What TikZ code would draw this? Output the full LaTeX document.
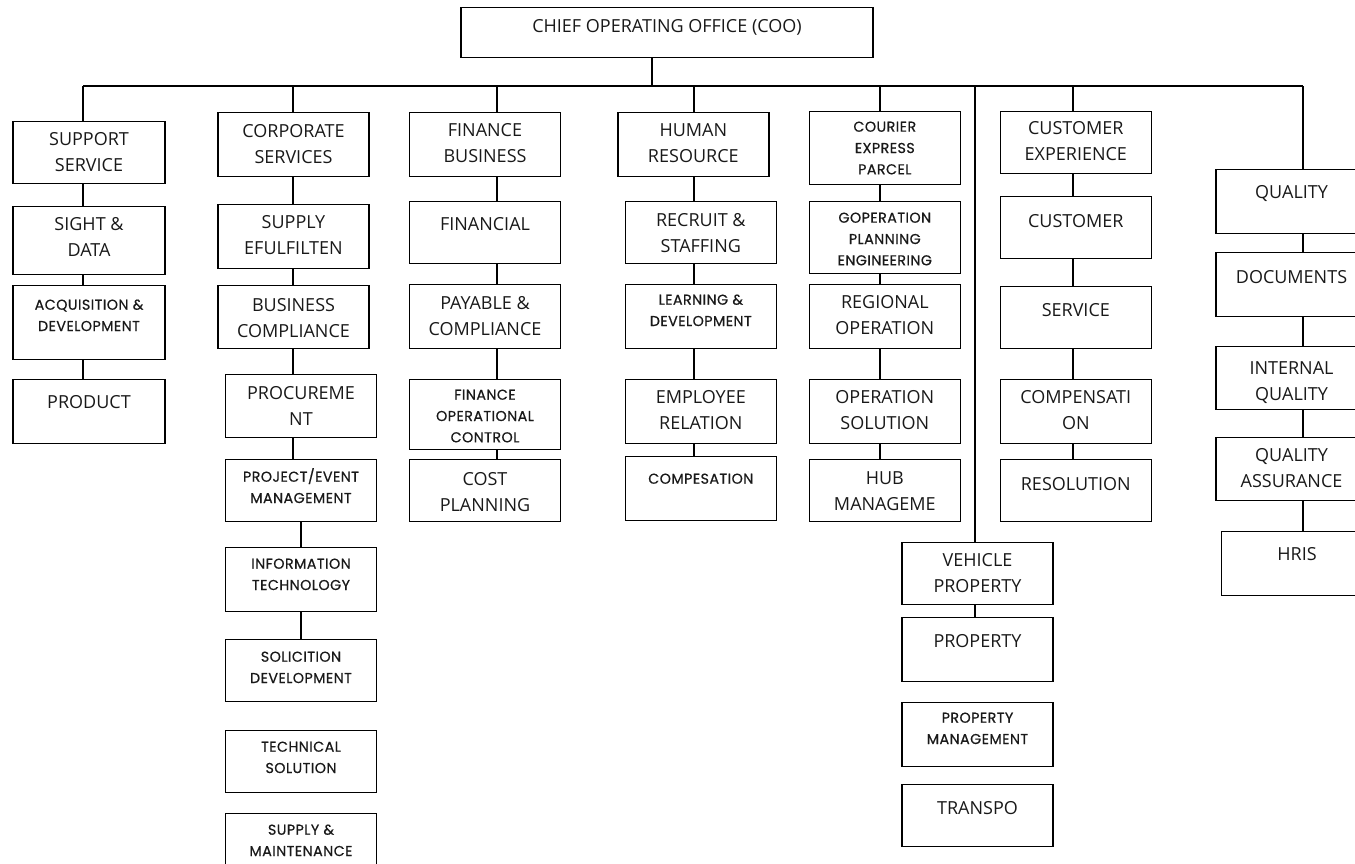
\documentclass[tikz,border=0pt]{standalone}
\usepackage{fontspec}
\setmainfont{Open Sans}
\newfontfamily\smallfam{Poppins}[LetterSpace=3,FakeBold=0.6]
\usetikzlibrary{positioning}

% box text: [width]{height}{first baseline}{lines}
\newcommand{\unittext}[4][151]{\parbox[t][#2pt][t]{#1pt}{\centering\rule{0pt}{#3pt}#4}}

\begin{document}
\begin{tikzpicture}[x=1pt, y=-1pt, line width=1.4pt,
                unit/.style={draw, anchor=north, inner sep=0pt, text=black!90},
                bigtext/.style={font=\fontsize{18}{26}\selectfont},
                smalltext/.style={font=\smallfam\fontsize{14.3}{21.3}\selectfont}]

      \useasboundingbox (0,0) rectangle (1355,863);

      % bus
      \coordinate (top) at (652,86);
      \coordinate (c1) at (83,86);
      \coordinate (c2) at (293,86);
      \coordinate (c3) at (497,86);
      \coordinate (c4) at (694,86);
      \coordinate (c5) at (880,86);
      \coordinate (c5b) at (975,86);
      \coordinate (c6) at (1073,86);
      \coordinate (c7) at (1303,86);

      \node[unit, bigtext] (coo) at (667,7) {\unittext[412]{50}{25}{CHIEF OPERATING OFFICE (COO)}};

      % support
      \node[unit, bigtext] (ss) at (89,121) {\unittext[152]{62}{24}{SUPPORT\\SERVICE}};
      \node[unit, bigtext] (sd) at (89,206) {\unittext[152]{68}{24}{SIGHT \&\\DATA}};
      \node[unit, smalltext] (ad) at (89,285) {\unittext[152]{74}{24}{ACQUISITION \&\\DEVELOPMENT}};
      \node[unit, bigtext] (pr) at (89,379) {\unittext[152]{64}{29}{PRODUCT}};

      % corporate
      \node[unit, bigtext] (cs) at (293.5,112) {\unittext{64}{24.5}{CORPORATE\\SERVICES}};
      \node[unit, bigtext] (se) at (293.5,204) {\unittext{64}{24}{SUPPLY\\EFULFILTEN}};
      \node[unit, bigtext] (bc) at (293.5,285) {\unittext{63}{26}{BUSINESS\\COMPLIANCE}};
      \node[unit, bigtext] (pn) at (301,374) {\unittext{63}{25}{PROCUREME\\NT}};
      \node[unit, smalltext] (pe) at (301,459) {\unittext{62}{22}{PROJECT/EVENT\\MANAGEMENT}};
      \node[unit, smalltext] (it) at (301,547) {\unittext{64}{21}{INFORMATION\\TECHNOLOGY}};
      \node[unit, smalltext] (sdv) at (301,639) {\unittext{62}{22}{SOLICITION\\DEVELOPMENT}};
      \node[unit, smalltext] (ts) at (301,730) {\unittext{62}{21}{TECHNICAL\\SOLUTION}};
      \node[unit, smalltext] (sm) at (301,813) {\unittext{62}{21}{SUPPLY \&\\MAINTENANCE}};

      % finance
      \node[unit, bigtext] (fb) at (485,112) {\unittext{64}{24}{FINANCE\\BUSINESS}};
      \node[unit, bigtext] (fi) at (485,201) {\unittext{62}{28.5}{FINANCIAL}};
      \node[unit, bigtext] (pc) at (485,284) {\unittext{64}{24.5}{PAYABLE \&\\COMPLIANCE}};
      \node[unit, smalltext] (foc) at (485,379) {\unittext{70}{20}{FINANCE\\OPERATIONAL\\CONTROL}};
      \node[unit, bigtext] (cp) at (485,459) {\unittext{62}{26}{COST\\PLANNING}};

      % human resource
      \node[unit, bigtext] (hr) at (693.3,112) {\unittext{64}{24}{HUMAN\\RESOURCE}};
      \node[unit, bigtext] (rs) at (700.8,201) {\unittext{62}{25}{RECRUIT \&\\STAFFING}};
      \node[unit, smalltext] (ld) at (700.8,284) {\unittext{64}{20}{LEARNING \&\\DEVELOPMENT}};
      \node[unit, bigtext] (er) at (700.8,379) {\unittext{63.5}{24}{EMPLOYEE\\RELATION}};
      \node[unit, smalltext] (cm) at (700.8,456) {\unittext{64}{27}{COMPESATION}};

      % courier
      \node[unit, smalltext] (cep) at (884.8,111) {\unittext{73}{20}{COURIER\\EXPRESS\\PARCEL}};
      \node[unit, smalltext] (gpe) at (884.8,201) {\unittext{72}{21}{GOPERATION\\PLANNING\\ENGINEERING}};
      \node[unit, bigtext] (ro) at (884.8,284) {\unittext{64}{24}{REGIONAL\\OPERATION}};
      \node[unit, bigtext] (os) at (884.8,379) {\unittext{63.5}{24}{OPERATION\\SOLUTION}};
      \node[unit, bigtext] (hm) at (884.8,459) {\unittext{62}{24.5}{HUB\\MANAGEME}};

      % vehicle
      \node[unit, bigtext] (vp) at (977.5,542) {\unittext{62}{24}{VEHICLE\\PROPERTY}};
      \node[unit, bigtext] (pp) at (977.5,617) {\unittext{64}{29.5}{PROPERTY}};
      \node[unit, smalltext] (pm) at (977.5,702) {\unittext{64}{20}{PROPERTY\\MANAGEMENT}};
      \node[unit, bigtext] (tr) at (977.5,784) {\unittext{62}{30}{TRANSPO}};

      % customer
      \node[unit, bigtext] (cx) at (1075.8,111) {\unittext{62}{23}{CUSTOMER\\EXPERIENCE}};
      \node[unit, bigtext] (cu) at (1075.8,196) {\unittext{62}{30.5}{CUSTOMER}};
      \node[unit, bigtext] (sv) at (1075.8,286) {\unittext{62}{30}{SERVICE}};
      \node[unit, bigtext] (co) at (1075.8,379) {\unittext{63.5}{24}{COMPENSATI\\ON}};
      \node[unit, bigtext] (rn) at (1075.8,459) {\unittext{62}{30.5}{RESOLUTION}};

      % quality
      \node[unit, bigtext] (qu) at (1291.5,169) {\unittext{64}{29}{QUALITY}};
      \node[unit, bigtext] (dc) at (1291.5,252) {\unittext{64}{31}{DOCUMENTS}};
      \node[unit, bigtext] (iq) at (1291.5,346) {\unittext{62.5}{27.5}{INTERNAL\\QUALITY}};
      \node[unit, bigtext] (qa) at (1291.5,437) {\unittext{62.5}{23.5}{QUALITY\\ASSURANCE}};
      \node[unit, bigtext] (hris) at (1297,531) {\unittext{64}{29}{HRIS}};

      \draw (coo.south -| top) -- (top);
      \draw (c1) -- (c7);
      \draw (c1) -- (ss.north -| c1);
      \draw (ss.south -| c1) -- (sd.north -| c1);
      \draw (sd.south -| c1) -- (ad.north -| c1);
      \draw (ad.south -| c1) -- (pr.north -| c1);
      \draw (c2) -- (cs.north -| c2);
      \draw (cs.south -| c2) -- (se.north -| c2);
      \draw (se.south -| c2) -- (bc.north -| c2);
      \draw (bc.south -| c2) -- (pn.north -| c2);
      \draw (pn.south -| c2) -- (pe.north -| c2);
      \draw (pe) -- (it);
      \draw (it) -- (sdv);
      \draw (c3) -- (fb.north -| c3);
      \draw (fb.south -| c3) -- (fi.north -| c3);
      \draw (fi.south -| c3) -- (pc.north -| c3);
      \draw (pc.south -| c3) -- (foc.north -| c3);
      \draw (foc.south -| c3) -- (cp.north -| c3);
      \draw (c4) -- (hr.north -| c4);
      \draw (hr.south -| c4) -- (rs.north -| c4);
      \draw (rs.south -| c4) -- (ld.north -| c4);
      \draw (ld.south -| c4) -- (er.north -| c4);
      \draw (er.south -| c4) -- (cm.north -| c4);
      \draw (c5) -- (cep.north -| c5);
      \draw (cep.south -| c5) -- (gpe.north -| c5);
      \draw (gpe.south -| c5) -- (ro.north -| c5);
      \draw (ro.south -| c5) -- (os.north -| c5);
      \draw (os.south -| c5) -- (hm.north -| c5);
      \draw (c5b) -- (vp.north -| c5b);
      \draw (vp.south -| c5b) -- (pp.north -| c5b);
      \draw (c6) -- (cx.north -| c6);
      \draw (cx.south -| c6) -- (cu.north -| c6);
      \draw (cu.south -| c6) -- (sv.north -| c6);
      \draw (sv.south -| c6) -- (co.north -| c6);
      \draw (co.south -| c6) -- (rn.north -| c6);
      \draw (c7) -- (qu.north -| c7);
      \draw (qu.south -| c7) -- (dc.north -| c7);
      \draw (dc.south -| c7) -- (iq.north -| c7);
      \draw (iq.south -| c7) -- (qa.north -| c7);
      \draw (qa.south -| c7) -- (hris.north -| c7);
  \end{tikzpicture}
\end{document}
